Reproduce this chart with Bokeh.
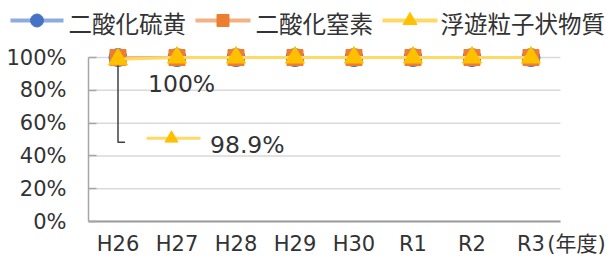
from bokeh.plotting import figure
from bokeh.layouts import column
from bokeh.models import Range1d, FixedTicker, PrintfTickFormatter
from bokeh.core.properties import value
from bokeh.embed import file_html
from bokeh.resources import INLINE

# ---- data ----
categories = ["H26", "H27", "H28", "H29", "H30", "R1", "R2", "R3"]
so2 = [100, 100, 100, 100, 100, 100, 100, 100]
no2 = [100, 100, 100, 100, 100, 100, 100, 100]
spm = [98.9, 100, 100, 100, 100, 100, 100, 100]
series_names = ["二酸化硫黄", "二酸化窒素", "浮遊粒子状物質"]
y_ticks = [0, 20, 40, 60, 80, 100]
unit_label = "(年度)"

LATIN = "'DejaVu Sans', 'Noto Sans CJK JP'"
CJK = "'Noto Sans CJK JP', 'DejaVu Sans'"
TXT = "#333333"

# style per series: line colour, marker colour, marker, size
STYLES = [("#8FAADC", "#4472C4", "circle", 18),
          ("#F4B183", "#ED7D31", "square", 16),
          ("#FFD966", "#FFC000", "triangle", 19)]

N = len(categories)
xs = [i + 0.5 for i in range(N)]          # category centres
UNIT_X = N + 0.27                         # where the unit tick label sits
XMAX = N + 0.78

FW, FH = 518, 181
YTOP = 110.4
p = figure(frame_width=FW, frame_height=FH,
           x_range=Range1d(0, XMAX), y_range=Range1d(0, YTOP),
           min_border_left=88, min_border_right=0, min_border_top=0, min_border_bottom=41,
           toolbar_location=None, output_backend="svg")
p.outline_line_color = None
p.background_fill_color = "white"
p.frame_align = False

PXX = XMAX / FW
PXY = YTOP / FH

# gridlines limited to the category span
p.xgrid.visible = False
p.ygrid.visible = False
p.segment(x0=[0] * len(y_ticks), x1=[N] * len(y_ticks), y0=y_ticks, y1=y_ticks,
          line_color="#D9D9D9", line_width=1.5, level="underlay")

# x axis
p.xaxis.ticker = FixedTicker(ticks=xs + [UNIT_X])
overrides = {x: c for x, c in zip(xs, categories)}
overrides[UNIT_X] = unit_label
p.xaxis.major_label_overrides = overrides
p.xaxis.bounds = (0, N)
p.xaxis.axis_line_color = "#9A9A9A"
p.xaxis.axis_line_width = 2
p.xaxis.major_tick_line_color = None
p.xaxis.minor_tick_line_color = None
p.xaxis.major_label_text_font = LATIN
p.xaxis.major_label_text_font_size = "21px"
p.xaxis.major_label_text_color = TXT
p.xaxis.major_label_standoff = 4

# y axis
p.yaxis.ticker = FixedTicker(ticks=y_ticks)
p.yaxis.formatter = PrintfTickFormatter(format="%d%%")
p.yaxis.bounds = (0, 100)
p.yaxis.axis_line_color = "#A6A6A6"
p.yaxis.axis_line_width = 1.5
p.yaxis.major_tick_in = 8
p.yaxis.major_tick_out = 0
p.yaxis.major_tick_line_color = "#A6A6A6"
p.yaxis.major_tick_line_width = 1.5
p.yaxis.minor_tick_line_color = None
p.yaxis.major_label_text_font = LATIN
p.yaxis.major_label_text_font_size = "21px"
p.yaxis.major_label_text_color = TXT
p.yaxis.major_label_standoff = 22

# series
for vals, (lc, mc, mk, sz) in zip([so2, no2], STYLES[:2]):
    p.line(xs, vals, line_color=lc, line_width=3)
    p.scatter(xs, vals, marker=mk, size=sz, fill_color=mc, line_color=mc)

# callout leader for the SPM H26 label
x0 = xs[0]
y0 = spm[0]
p.line([x0, x0, x0 + 7 * PXX], [y0, y0 - 83 * PXY, y0 - 83 * PXY], line_color="#404040", line_width=1.5)

lc, mc, mk, sz = STYLES[2]
p.line(xs, spm, line_color=lc, line_width=3)
p.scatter(xs, spm, marker=mk, size=sz, fill_color=mc, line_color=mc)

# callout legend key
ky = y0 - 79 * PXY
p.line([x0 + 28.5 * PXX, x0 + 82.5 * PXX], [ky, ky], line_color=lc, line_width=3)
p.scatter([x0 + 53.5 * PXX], [ky], marker="triangle", size=13, fill_color=mc, line_color=mc)

# data labels
p.text(x=[x0], y=[so2[0]], text=[f"{so2[0]:g}%"], x_offset=30, y_offset=26,
       text_font=value(LATIN), text_font_size="23.5px", text_color=TXT,
       text_baseline="middle", text_align="left")
p.text(x=[x0], y=[y0], text=[f"{spm[0]:g}%"], x_offset=92, y_offset=86,
       text_font=value(LATIN), text_font_size="23.5px", text_color=TXT,
       text_baseline="middle", text_align="left")

# ---- legend strip (separate figure on top, pixel coordinates) ----
LW, LH = 606, 40
lg = figure(width=LW, height=LH, min_border=0, toolbar_location=None,
            output_backend="svg", x_axis_type=None, y_axis_type=None,
            x_range=Range1d(0, LW), y_range=Range1d(LH, 0))
lg.outline_line_color = None
lg.grid.visible = False
lg.frame_align = False
# (line start, line end, text start) for each legend entry, in pixels
LEG_POS = [(10, 63, 68), (195, 250, 255), (382, 437, 440)]
LEG_MARK = [13, 12, 14]
for name, (lc, mc, mk, sz), (a, b, t), ms in zip(series_names, STYLES, LEG_POS, LEG_MARK):
    lg.line([a, b], [20, 20], line_color=lc, line_width=4)
    lg.scatter([(a + b) / 2], [20], marker=mk, size=ms, fill_color=mc, line_color=mc)
    lg.text(x=[t], y=[22], text=[name], text_font=value(CJK), text_font_size="23.5px",
            text_color=TXT, text_baseline="middle", text_align="left")

open("out.html", "w").write(file_html(column(lg, p, spacing=0), INLINE))
